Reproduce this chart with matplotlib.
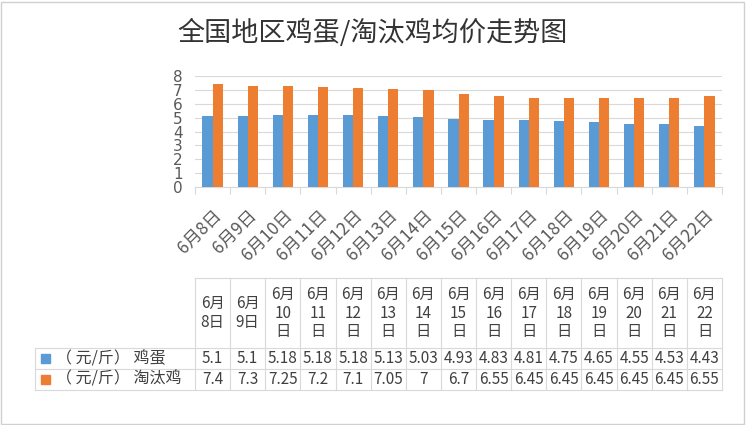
import matplotlib
matplotlib.use('Agg')
import matplotlib.pyplot as plt
import numpy as np
from matplotlib.patches import Rectangle

plt.rcParams['font.family'] = ['Noto Sans CJK SC', 'DejaVu Sans']

days = [8, 9, 10, 11, 12, 13, 14, 15, 16, 17, 18, 19, 20, 21, 22]
egg = [5.1, 5.1, 5.18, 5.18, 5.18, 5.13, 5.03, 4.93, 4.83, 4.81, 4.75, 4.65, 4.55, 4.53, 4.43]
hen = [7.4, 7.3, 7.25, 7.2, 7.1, 7.05, 7, 6.7, 6.55, 6.45, 6.45, 6.45, 6.45, 6.45, 6.55]
series_names = ['（ 元/斤） 鸡蛋', '（ 元/斤） 淘汰鸡']
colors = ['#5B9BD5', '#ED7D31']

labels = ['6月%d日' % d for d in days]
head_labels = ['6月\n%d日' % d if d < 10 else '6月\n%d\n日' % d for d in days]

W, H = 746, 425
fig = plt.figure(figsize=(W / 100, H / 100), dpi=100)

def fx(px):
    return px / W

def fy(py):
    return 1 - py / H

ax = fig.add_axes([fx(195), fy(187), fx(722) - fx(195), fy(76) - fy(187)])
x = np.arange(len(days))
bw = 0.29
ax.bar(x - bw / 2, egg, bw, color=colors[0], zorder=3)
ax.bar(x + bw / 2, hen, bw, color=colors[1], zorder=3)
ax.set_xlim(-0.5, len(days) - 0.5)
ax.set_ylim(0, 8)
ax.set_yticks(range(0, 9))
ax.yaxis.grid(True, color='#D9D9D9', lw=0.8, zorder=0)
for s in ['top', 'right', 'left']:
    ax.spines[s].set_visible(False)
ax.spines['bottom'].set_color('#D9D9D9')
ax.tick_params(axis='y', length=0, labelsize=11, labelcolor='#595959', pad=9)
for t in ax.get_yticklabels():
    t.set_fontfamily(['DejaVu Sans'])
ax.set_xticks(np.arange(-0.5, len(days), 1))
ax.set_xticklabels([])
ax.tick_params(axis='x', length=5, color='#D9D9D9', which='major')
ax.set_xticks(x, minor=True)
ax.set_xticklabels(labels, minor=True, rotation=45, ha='right', va='top',
                   rotation_mode='anchor', fontsize=12.5, color='#595959')
ax.tick_params(axis='x', which='minor', length=0, pad=14)

fig.text(0.5, fy(33), '全国地区鸡蛋/淘汰鸡均价走势图', ha='center', va='center',
         fontsize=19.5, color='#333333')

# data table
left_px, right_px = 195, 722
col_w = (right_px - left_px) / len(days)
y_top, y_head, y_r1, y_r2 = 278, 348, 369, 390
lab_left = 35
lc = '#D9D9D9'
tc = '#404040'

def hline(y, x0, x1):
    fig.add_artist(plt.Line2D([fx(x0), fx(x1)], [fy(y), fy(y)], color=lc, lw=0.8))

def vline(xp, y0, y1):
    fig.add_artist(plt.Line2D([fx(xp), fx(xp)], [fy(y0), fy(y1)], color=lc, lw=0.8))

hline(y_top, left_px, right_px)
for yy in (y_head, y_r1, y_r2):
    hline(yy, lab_left, right_px)
for i in range(len(days) + 1):
    vline(left_px + i * col_w, y_top, y_r2)
vline(lab_left, y_head, y_r2)

for i in range(len(days)):
    cx = left_px + (i + 0.5) * col_w
    fig.text(fx(cx), fy((y_top + y_head) / 2), head_labels[i], ha='center', va='center',
             fontsize=11, color=tc, linespacing=1.1)
    fig.text(fx(cx), fy((y_head + y_r1) / 2), '%g' % egg[i], ha='center', va='center',
             fontsize=11, color=tc)
    fig.text(fx(cx), fy((y_r1 + y_r2) / 2), '%g' % hen[i], ha='center', va='center',
             fontsize=11, color=tc)

for k, (name, yc) in enumerate(zip(series_names, [(y_head + y_r1) / 2, (y_r1 + y_r2) / 2])):
    fig.add_artist(Rectangle((fx(41), fy(yc + 4.5)), fx(9), fy(0) - fy(9),
                             color=colors[k], transform=fig.transFigure))
    fig.text(fx(56), fy(yc), name, ha='left', va='center', fontsize=11.5, color=tc)

# outer border
fig.add_artist(Rectangle((0.002, 0.003), 0.995, 0.993, fill=False, ec='#D0D0D0', lw=1,
                         transform=fig.transFigure))

fig.savefig('out.png', dpi=100)
